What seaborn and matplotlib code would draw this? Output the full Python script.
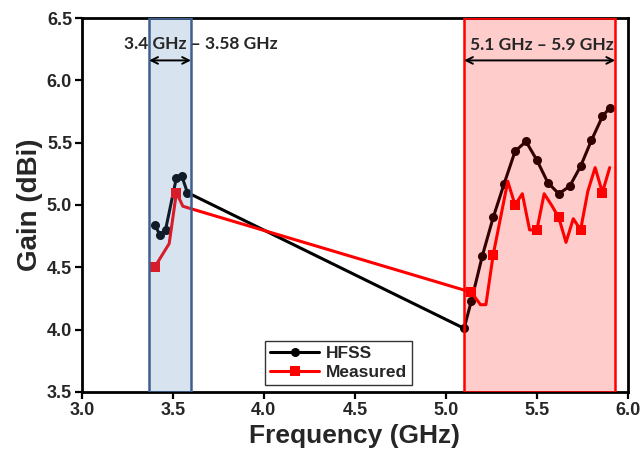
import numpy as np
import pandas as pd
import matplotlib
matplotlib.use("Agg")
import matplotlib.pyplot as plt
import seaborn as sns
from matplotlib.patches import Rectangle

# ---- data ----
hfss_freq = [3.40, 3.43, 3.46, 3.52, 3.55, 3.58, 5.10, 5.14, 5.20, 5.26, 5.32, 5.38,
             5.44, 5.50, 5.56, 5.62, 5.68, 5.74, 5.80, 5.86, 5.90]
hfss_gain = [4.84, 4.76, 4.80, 5.22, 5.23, 5.10, 4.01, 4.23, 4.59, 4.90, 5.17, 5.43,
             5.51, 5.36, 5.18, 5.09, 5.15, 5.31, 5.52, 5.71, 5.78]

meas_freq = [3.40, 3.48, 3.52, 3.555, 3.60, 5.14, 5.19, 5.22, 5.26, 5.34, 5.38, 5.42,
             5.46, 5.50, 5.54, 5.58, 5.62, 5.66, 5.70, 5.74, 5.78, 5.82, 5.86, 5.90]
meas_gain = [4.50, 4.69, 5.10, 4.99, 4.97, 4.30, 4.20, 4.20, 4.60, 5.19, 5.00, 5.09,
             4.80, 4.80, 5.09, 5.00, 4.90, 4.70, 4.89, 4.80, 5.11, 5.30, 5.10, 5.30]
meas_marked = [0, 2, 5, 8, 10, 13, 16, 19, 22]

band1 = (3.37, 3.60)
band2 = (5.10, 5.93)
band1_label = "3.4 GHz \u2013 3.58 GHz"
band2_label = "5.1 GHz \u2013 5.9 GHz"

xticks = [3.0, 3.5, 4.0, 4.5, 5.0, 5.5, 6.0]
yticks = [3.5, 4.0, 4.5, 5.0, 5.5, 6.0, 6.5]

# ---- plot ----
sns.set_theme(style="ticks")
plt.rcParams['font.family'] = ['Liberation Sans', 'DejaVu Sans']

fig = plt.figure(figsize=(6.44, 4.51), dpi=100)
ax = fig.add_axes([0.127, 0.131, 0.848, 0.829])

hf = pd.DataFrame({"f": hfss_freq, "g": hfss_gain})
ms = pd.DataFrame({"f": meas_freq, "g": meas_gain})

sns.lineplot(data=hf, x="f", y="g", sort=False, estimator=None, ax=ax,
             color="black", lw=2.2, marker="o", markersize=6.5, markeredgewidth=0,
             label="HFSS", zorder=3)
sns.lineplot(data=ms, x="f", y="g", sort=False, estimator=None, ax=ax,
             color="#ff0000", lw=2.2, marker="s", markersize=6.5, markeredgewidth=0,
             markevery=meas_marked, label="Measured", zorder=4)

# shaded bands (semi-transparent, on top)
ax.add_patch(Rectangle((band1[0], 3.5), band1[1] - band1[0], 3.0,
                       facecolor=(79/255, 129/255, 189/255, 0.22),
                       edgecolor="#3f5f8f", lw=1.8, zorder=5))
ax.add_patch(Rectangle((band2[0], 3.5), band2[1] - band2[0], 3.0,
                       facecolor=(1, 0, 0, 0.2),
                       edgecolor="#ff0000", lw=1.8, zorder=5))

# arrows and labels
ax.annotate("", xy=(band1[0], 6.16), xytext=(band1[1], 6.16),
            arrowprops=dict(arrowstyle="<->", lw=1.4, color="black",
                            shrinkA=0, shrinkB=0), zorder=6)
ax.annotate("", xy=(band2[0], 6.16), xytext=(band2[1], 6.16),
            arrowprops=dict(arrowstyle="<->", lw=1.4, color="black",
                            shrinkA=0, shrinkB=0), zorder=6)
ax.text(3.655, 6.29, band1_label, ha="center", va="center", fontsize=12.5,
        fontweight="bold", family=["Lato", "DejaVu Sans"], zorder=6)
ax.text(5.525, 6.28, band2_label, ha="center", va="center", fontsize=12.5,
        fontweight="bold", family=["Lato", "DejaVu Sans"], zorder=6)

ax.set_xlim(3.0, 6.0)
ax.set_ylim(3.5, 6.5)
ax.set_xticks(xticks)
ax.set_yticks(yticks)
ax.set_xticklabels([f"{t:.1f}" for t in xticks], fontsize=13, fontweight="bold")
ax.set_yticklabels([f"{t:.1f}" for t in yticks], fontsize=13, fontweight="bold")
ax.tick_params(direction="out", length=5, width=1.6, color="black", pad=2)
ax.set_xlabel("Frequency (GHz)", fontsize=19, fontweight="bold", labelpad=4)
ax.set_ylabel("Gain (dBi)", fontsize=20, fontweight="bold", labelpad=3)
for s in ax.spines.values():
    s.set_linewidth(2)
    s.set_color("black")
    s.set_visible(True)

leg = ax.legend(loc="lower left", bbox_to_anchor=(0.32, -0.005), frameon=True,
                fancybox=False, edgecolor="black", prop=dict(size=12.5, weight="bold"),
                handlelength=2.8, borderpad=0.3, labelspacing=0.2, handletextpad=0.4)
leg.get_frame().set_linewidth(1.0)
leg.set_zorder(7)

fig.savefig("out.png", dpi=100)
